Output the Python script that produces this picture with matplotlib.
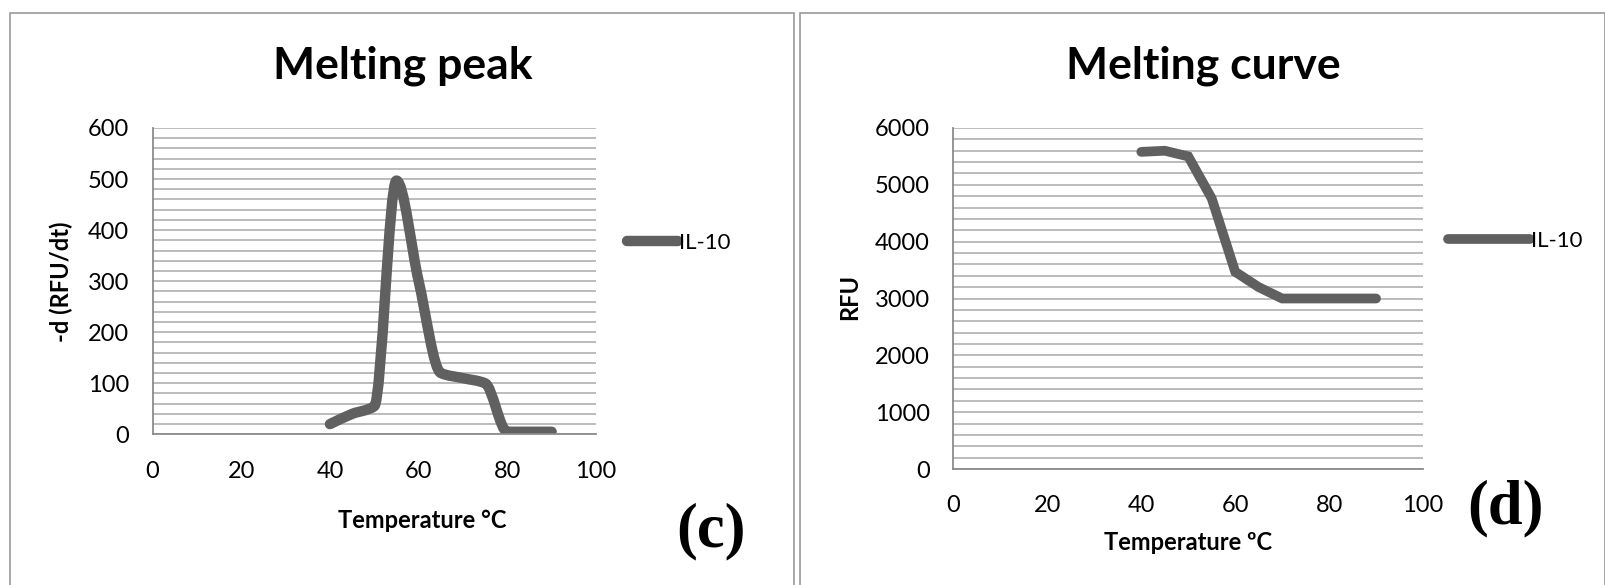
import matplotlib
matplotlib.use("Agg")
import matplotlib.pyplot as plt
import numpy as np
from matplotlib.path import Path
from matplotlib.patches import PathPatch, Rectangle

# data
temp = [40, 45, 50, 55, 60, 65, 70, 75, 80, 85, 90]
peak_il10 = [20, 40, 55, 497, 300, 120, 110, 100, 5, 5, 5]
curve_il10 = [5580, 5600, 5500, 4760, 3470, 3200, 3000, 3000, 3000, 3000, 3000]

x_ticks = [0, 20, 40, 60, 80, 100]
peak_yticks = [0, 100, 200, 300, 400, 500, 600]
curve_yticks = [0, 1000, 2000, 3000, 4000, 5000, 6000]

line_col = "#606060"
grid_col = "#b0b0b0"
font = "Lato"

plt.rcParams['font.family'] = [font, 'DejaVu Sans']

fig = plt.figure(figsize=(16.06, 5.85), dpi=100)

# panel frames
fig.patches.append(Rectangle((10 / 1606, -0.1), (794 - 10) / 1606, 1 - 13 / 585 + 0.1,
                             transform=fig.transFigure, fill=False, ec="#9a9a9a", lw=1.2))
fig.patches.append(Rectangle((800 / 1606, -0.1), (1605 - 800) / 1606, 1 - 13 / 585 + 0.1,
                             transform=fig.transFigure, fill=False, ec="#9a9a9a", lw=1.2))


def smooth_path(xs, ys):
    # smoothed line without overshoot: monotone cubic tangents drawn as beziers
    x = np.asarray(xs, float)
    y = np.asarray(ys, float)
    h = np.diff(x)
    d = np.diff(y) / h
    m = np.zeros_like(y)
    m[0], m[-1] = d[0], d[-1]
    for i in range(1, len(y) - 1):
        if d[i - 1] * d[i] > 0:
            m[i] = 2 * d[i - 1] * d[i] / (d[i - 1] + d[i])
    verts = [(x[0], y[0])]
    codes = [Path.MOVETO]
    for i in range(len(x) - 1):
        verts += [(x[i] + h[i] / 3, y[i] + m[i] * h[i] / 3),
                  (x[i + 1] - h[i] / 3, y[i + 1] - m[i + 1] * h[i] / 3),
                  (x[i + 1], y[i + 1])]
        codes += [Path.CURVE4] * 3
    return Path(verts, codes)


def style_axes(ax, ymax, ystep, yticks):
    ax.set_xlim(0, 100)
    ax.set_ylim(0, ymax)
    ax.set_xticks(x_ticks)
    ax.set_yticks(yticks)
    ax.set_yticks(np.arange(0, ymax + 1, ystep), minor=True)
    ax.grid(True, which="both", axis="y", color=grid_col, lw=1.2)
    ax.set_axisbelow(True)
    for s in ["top", "right"]:
        ax.spines[s].set_visible(False)
    for s in ["left", "bottom"]:
        ax.spines[s].set_color("#8c8c8c")
        ax.spines[s].set_linewidth(1.3)
    ax.tick_params(axis="both", which="both", length=0, labelsize=17, colors="#000000")
    ax.tick_params(axis="x", pad=19)
    ax.tick_params(axis="y", pad=17)


# left: melting peak
ax1 = fig.add_axes([152.6 / 1606, 1 - 434.3 / 585, (596 - 152.6) / 1606, (434.3 - 128) / 585])
style_axes(ax1, 600, 20, peak_yticks)
ax1.add_patch(PathPatch(smooth_path(temp, peak_il10), fill=False, ec=line_col, lw=7.5,
                        capstyle="round", joinstyle="round"))
ax1.plot([], [], color=line_col, lw=7.5, solid_capstyle="round", label="IL-10")
ax1.legend(loc="center left", bbox_to_anchor=(627 / 1606, 1 - 243 / 585),
           bbox_transform=fig.transFigure, frameon=False, fontsize=16,
           handlelength=2.3, handletextpad=0.05, borderpad=0, borderaxespad=0)

# right: melting curve
ax2 = fig.add_axes([953.5 / 1606, 1 - 469 / 585, (1423 - 953.5) / 1606, (469 - 128) / 585])
style_axes(ax2, 6000, 200, curve_yticks)
ax2.plot(temp, curve_il10, color=line_col, lw=7, solid_capstyle="round",
         solid_joinstyle="miter", label="IL-10")
ax2.legend(loc="center left", bbox_to_anchor=(1448 / 1606, 1 - 241 / 585),
           bbox_transform=fig.transFigure, frameon=False, fontsize=16,
           handlelength=3.7, handletextpad=0.05, borderpad=0, borderaxespad=0)

# titles and labels
fig.text(403 / 1606, 1 - 66 / 585, "Melting peak", ha="center", va="center",
         fontsize=32, fontweight="bold")
fig.text(1203 / 1606, 1 - 66 / 585, "Melting curve", ha="center", va="center",
         fontsize=32, fontweight="bold")
fig.text(422 / 1606, 1 - 520 / 585, "Temperature °C", ha="center", va="center",
         fontsize=17, fontweight="bold")
fig.text(1188 / 1606, 1 - 543 / 585, "Temperature ºC", ha="center", va="center",
         fontsize=17, fontweight="bold")
fig.text(61 / 1606, 1 - 282 / 585, "-d (RFU/dt)", ha="center", va="center",
         fontsize=17, fontweight="bold", rotation=90)
fig.text(850 / 1606, 1 - 297 / 585, "RFU", ha="center", va="center",
         fontsize=17, fontweight="bold", rotation=90)
fig.text(711 / 1606, 1 - 531 / 585, "(c)", ha="center", va="center",
         fontsize=45, fontweight="bold", family="Liberation Serif")
fig.text(1506 / 1606, 1 - 508 / 585, "(d)", ha="center", va="center",
         fontsize=45, fontweight="bold", family="Liberation Serif")

fig.savefig("out.png", dpi=100)
